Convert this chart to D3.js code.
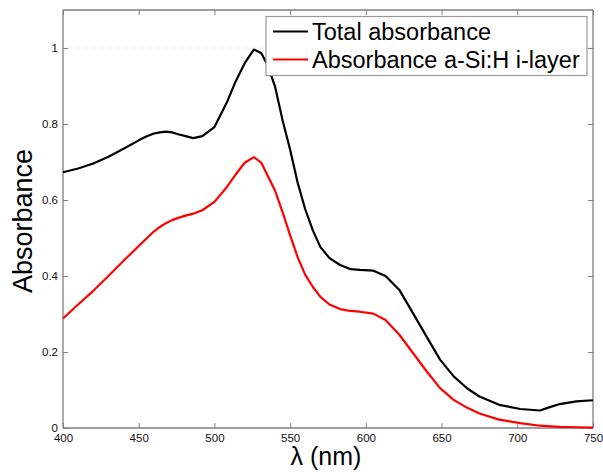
<!DOCTYPE html>
<html>
<head>
<meta charset="utf-8">
<script src="https://cdn.jsdelivr.net/npm/d3@7"></script>
<style>
  html, body { margin: 0; padding: 0; background: #fff; }
  svg { display: block; font-family: "Liberation Sans", Arial, sans-serif; }
</style>
</head>
<body>
<svg id="chart" width="603" height="476"></svg>
<script>
// Wavelength samples (nm)
const wavelength = [400, 410, 420, 430, 440, 450, 455, 460, 464, 468, 472, 476, 481, 486, 492, 500, 508, 514, 520, 526, 531, 535, 540, 545,
  550, 555, 560, 565, 570, 576, 583, 590, 596, 605, 613, 622, 631, 640, 649, 658, 667, 675, 688, 702,
  715, 720, 728, 739, 750];

// Total absorbance of the cell
const totalAbsorbance = [0.673, 0.683, 0.696, 0.714, 0.735, 0.757, 0.767, 0.775, 0.778, 0.780, 0.778, 0.773, 0.768, 0.763, 0.768, 0.792, 0.855, 0.912, 0.960, 0.996, 0.986, 0.955, 0.899, 0.810,
  0.732, 0.645, 0.575, 0.520, 0.476, 0.447, 0.429, 0.418, 0.416, 0.414, 0.400, 0.364, 0.303, 0.241, 0.180, 0.136, 0.104, 0.083, 0.061, 0.050,
  0.046, 0.053, 0.063, 0.070, 0.073];

// Absorbance in the a-Si:H intrinsic layer
const iLayerAbsorbance = [0.288, 0.325, 0.361, 0.400, 0.440, 0.479, 0.498, 0.517, 0.529, 0.539, 0.547, 0.553, 0.559, 0.564, 0.573, 0.595, 0.633, 0.667, 0.698, 0.713, 0.698, 0.665, 0.625, 0.568,
  0.507, 0.449, 0.403, 0.371, 0.345, 0.325, 0.313, 0.308, 0.306, 0.301, 0.284, 0.246, 0.198, 0.150, 0.105, 0.074, 0.053, 0.038, 0.022, 0.013,
  0.006, 0.005, 0.003, 0.002, 0.001];

const xTicks = [400, 450, 500, 550, 600, 650, 700, 750];
const yTicks = [0, 0.2, 0.4, 0.6, 0.8, 1];
const seriesNames = ["Total absorbance", "Absorbance a-Si:H i-layer"];
const seriesColors = ["#000000", "#ff0000"];

const svg = d3.select("#chart");
const m = { left: 63, right: 10, top: 10, bottom: 48 };
const W = 603, H = 476;
const iw = W - m.left - m.right, ih = H - m.top - m.bottom;

const x = d3.scaleLinear().domain([400, 750]).range([0, iw]);
const y = d3.scaleLinear().domain([0, 1.1]).range([ih, 0]);

const g = svg.append("g").attr("transform", `translate(${m.left},${m.top})`);

const axisColor = "#7f7f7f";
const tickLen = 5;

// faint dotted reference at absorbance 1
g.append("line")
  .attr("x1", 0).attr("x2", iw)
  .attr("y1", y(1)).attr("y2", y(1))
  .attr("stroke", "#d8d8d8").attr("stroke-width", 1)
  .attr("stroke-dasharray", "1,3");

// Bottom axis
const xAxis = g.append("g").attr("transform", `translate(0,${ih})`)
  .call(d3.axisBottom(x).tickValues(xTicks).tickSize(-tickLen).tickPadding(6).tickFormat(d3.format("d")));
// Top axis (ticks only)
const xAxisTop = g.append("g")
  .call(d3.axisTop(x).tickValues(xTicks).tickSize(-tickLen).tickFormat(""));
// Left axis
const yAxis = g.append("g")
  .call(d3.axisLeft(y).tickValues(yTicks).tickSize(-tickLen).tickPadding(5).tickFormat(d => d === 0 || d === 1 ? d3.format("d")(d) : d3.format(".1f")(d)));
// Right axis (ticks only)
const yAxisRight = g.append("g").attr("transform", `translate(${iw},0)`)
  .call(d3.axisRight(y).tickValues(yTicks).tickSize(-tickLen).tickFormat(""));

[xAxis, xAxisTop, yAxis, yAxisRight].forEach(a => {
  a.select(".domain").attr("stroke", axisColor).attr("stroke-width", 1.3);
  a.selectAll(".tick line").attr("stroke", axisColor).attr("stroke-width", 1);
  a.selectAll(".tick text").attr("fill", "#111").style("font-size", "11.5px")
    .style("font-family", "'Liberation Sans', Arial, sans-serif");
});
// Plain straight sides for the frame
xAxis.selectAll(".domain").attr("d", `M0,0H${iw}`);
xAxisTop.selectAll(".domain").attr("d", `M0,0H${iw}`);
yAxis.selectAll(".domain").attr("d", `M0,0V${ih}`);
yAxisRight.selectAll(".domain").attr("d", `M0,0V${ih}`);

// Curves
const line = d3.line().x(d => x(d[0])).y(d => y(d[1]));
const series = [totalAbsorbance, iLayerAbsorbance];
series.forEach((vals, i) => {
  g.append("path")
    .datum(wavelength.map((w, j) => [w, vals[j]]))
    .attr("d", line)
    .attr("fill", "none")
    .attr("stroke", seriesColors[i])
    .attr("stroke-width", 2.2)
    .attr("stroke-linejoin", "round");
});

// Axis titles
svg.append("text")
  .attr("x", m.left + x(400 + (750 - 400) * 0.5) - 2)
  .attr("y", 465)
  .attr("text-anchor", "middle")
  .style("font-size", "25px")
  .attr("fill", "#000")
  .text("λ (nm)");

svg.append("text")
  .attr("transform", `translate(32,${m.top + ih / 2 + 2}) rotate(-90)`)
  .attr("text-anchor", "middle")
  .style("font-size", "27px")
  .attr("fill", "#000")
  .text("Absorbance");

// Legend
const lg = svg.append("g").attr("transform", "translate(266,16.5)");
lg.append("rect")
  .attr("width", 321).attr("height", 59)
  .attr("fill", "#fff")
  .attr("stroke", "#9a9a9a").attr("stroke-width", 1.2);
seriesNames.forEach((name, i) => {
  const cy = 15 + i * 28;
  lg.append("line")
    .attr("x1", 7).attr("x2", 42)
    .attr("y1", cy).attr("y2", cy)
    .attr("stroke", seriesColors[i]).attr("stroke-width", 2.2);
  lg.append("text")
    .attr("x", 46).attr("y", cy + 8)
    .style("font-size", "23.5px")
    .attr("fill", "#000")
    .text(name);
});
</script>
</body>
</html>
